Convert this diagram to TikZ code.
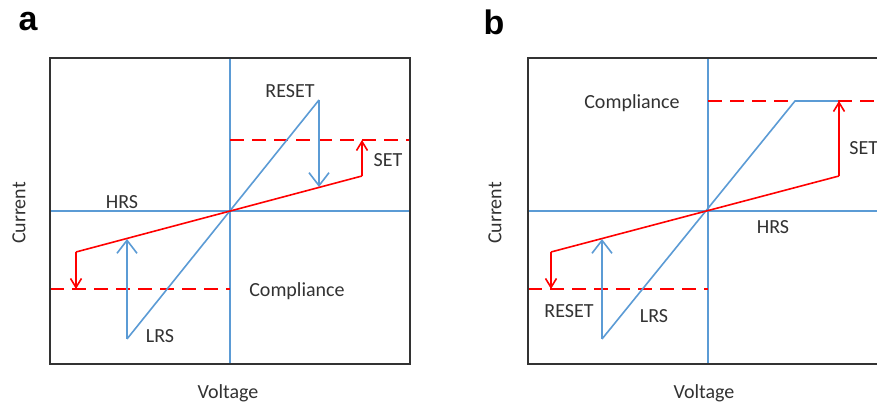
\documentclass[tikz,border=0pt]{standalone}
\usepackage{fontspec}
\setmainfont{Carlito}
\newfontfamily\tagfont{Liberation Sans}
\usetikzlibrary{arrows.meta}

\definecolor{curveblue}{RGB}{91,155,213}
\definecolor{curvered}{RGB}{255,0,0}
\definecolor{labelgray}{RGB}{50,50,50}

\tikzset{
  axisline/.style={curveblue, line width=0.75pt},
  lrs/.style={curveblue, line width=0.8pt},
  hrs/.style={curvered, line width=0.8pt},
  limit/.style={curvered, line width=0.9pt, dash pattern=on 7pt off 4pt},
  bluejump/.style={lrs, -{Straight Barb[length=6.5pt, width=10pt]}},
  redjump/.style={hrs, -{Straight Barb[length=4.5pt, width=5.5pt]}},
  frame/.style={draw=black!80, line width=0.9pt},
  lab/.style={text=labelgray, font=\fontsize{10}{12}\selectfont, inner sep=0pt},
  tag/.style={font=\tagfont\bfseries\fontsize{17}{20}\selectfont, inner sep=0pt}
}

\begin{document}
\begin{tikzpicture}[x=0.5pt, y=-0.5pt]
    \clip (0,0) rectangle (877,410);
    \fill[white] (0,0) rectangle (877,410);

    % panel a
    \node[tag] (tagA) at (28,22) {a};
    \coordinate (oA) at (230,211);
    \coordinate (lrsLowA) at (127,339);
    \coordinate (lrsHighA) at (319,100);
    \coordinate (lrsHitA) at (127,239);
    \coordinate (resetEndA) at (319,187);
    \coordinate (hrsLowA) at (76,252);
    \coordinate (hrsHighA) at (362,176);
    \coordinate (setTopA) at (362,140);
    \coordinate (compLowA) at (76,289);

    \draw[axisline] (230,58) -- (230,364);
    \draw[axisline] (50,211) -- (410,211);
    \draw[limit] (230,140) -- (410,140);
    \draw[limit] (50,289) -- (230,289);

    \draw[lrs] (lrsLowA) -- (lrsHighA);
    \draw[bluejump] (lrsHighA) -- (resetEndA);
    \draw[bluejump] (lrsLowA) -- (lrsHitA);

    \draw[hrs] (hrsLowA) -- (hrsHighA);
    \draw[redjump] (hrsHighA) -- (setTopA);
    \draw[redjump] (hrsLowA) -- (compLowA);

    \draw[frame] (50,58) rectangle (410,364);

    \node[lab] (resetA) at (290,91) {RESET};
    \node[lab] (setA) at (388,160) {SET};
    \node[lab] (hrsA) at (122,202) {HRS};
    \node[lab] (compA) at (297,291) {Compliance};
    \node[lab] (lrsA) at (160,336) {LRS};
    \node[lab, rotate=90] (curA) at (19,213) {Current};
    \node[lab] (voltA) at (228,393) {Voltage};

    % panel b
    \begin{scope}[shift={(478,0)}]
        \node[tag] (tagB) at (16,22) {b};
        \coordinate (oB) at (230,211);
        \coordinate (lrsLowB) at (124,339);
        \coordinate (lrsHighB) at (317,101);
        \coordinate (lrsFlatB) at (360,101);
        \coordinate (lrsHitB) at (124,239);
        \coordinate (hrsLowB) at (73,252);
        \coordinate (hrsHighB) at (361,176);
        \coordinate (setTopB) at (361,101);
        \coordinate (compLowB) at (73,289);

        \draw[axisline] (230,58) -- (230,364);
        \draw[axisline] (50,211) -- (410,211);
        \draw[limit] (230,101) -- (lrsHighB);
        \draw[limit] (lrsFlatB) -- (410,101);
        \draw[limit] (50,289) -- (230,289);

        \draw[lrs] (lrsLowB) -- (lrsHighB) -- (lrsFlatB);
        \draw[bluejump] (lrsLowB) -- (lrsHitB);

        \draw[hrs] (hrsLowB) -- (hrsHighB);
        \draw[redjump] (hrsHighB) -- (setTopB);
        \draw[redjump] (hrsLowB) -- (compLowB);

        \draw[frame] (50,58) rectangle (410,364);

        \node[lab] (compB) at (154,103) {Compliance};
        \node[lab, anchor=west] (setB) at (371,148) {SET};
        \node[lab] (hrsB) at (295,227) {HRS};
        \node[lab] (resetB) at (91,311) {RESET};
        \node[lab] (lrsB) at (176,316) {LRS};
        \node[lab, rotate=90] (curB) at (17,213) {Current};
        \node[lab] (voltB) at (226,393) {Voltage};
    \end{scope}
\end{tikzpicture}
\end{document}
